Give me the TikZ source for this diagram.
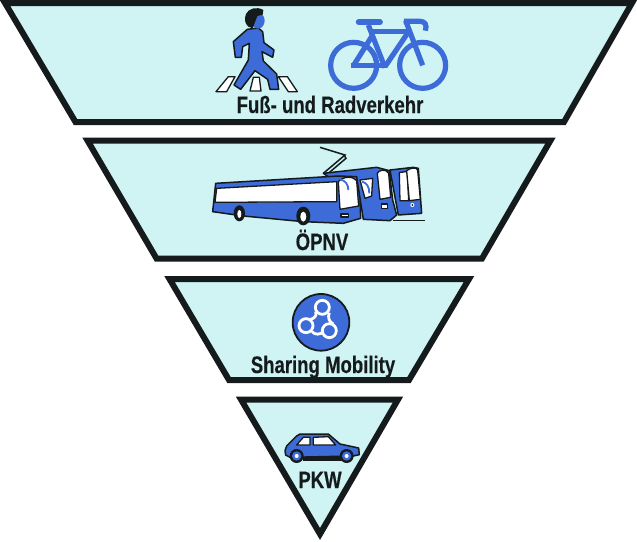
\documentclass[tikz,border=0pt]{standalone}
\usepackage{fontspec}
\setmainfont[FakeStretch=0.78,BoldFeatures={FakeBold=0.35}]{Liberation Sans}
\definecolor{panel}{HTML}{CFF4F3}
\definecolor{iconblue}{HTML}{3D6BD8}
\definecolor{ink}{HTML}{151A1C}
\tikzset{
  panelshape/.style={draw=ink,fill=panel,line width=6pt,miter limit=10,line join=miter},
  lbl/.style={font=\fontsize{23.8}{25}\selectfont\bfseries,text=ink,anchor=base,inner sep=0pt},
  icon/.style={draw=ink,fill=iconblue,line width=1.5pt,line join=round},
  wht/.style={draw=ink,fill=white,line width=1.3pt,line join=round},
  bikeline/.style={draw=iconblue,line width=5.2pt,line join=miter,line cap=butt},
  ringw/.style={draw=white,line width=2.8pt}
}
\begin{document}
\begin{tikzpicture}[x=1pt,y=-1pt]
\useasboundingbox (0,0) rectangle (637,541);
\fill[white] (0,0) rectangle (637,541);
% panels
\draw[panelshape] (5,3) -- (632,3) -- (564,122) -- (75.5,122) -- cycle;
\draw[panelshape] (87.5,140.5) -- (550.5,140.5) -- (482,258.5) -- (156.5,258.5) -- cycle;
\draw[panelshape] (169.5,279) -- (469,279) -- (409,380) -- (229,380) -- cycle;
\draw[panelshape] (241,399.5) -- (398,399.5) -- (320,534) -- cycle;
% labels
\node[lbl] (t1) at (330,113) {Fuß- und Radverkehr};
\node[lbl] (t2) at (322,250) {ÖPNV};
\node[lbl] (t3) at (323,373) {Sharing Mobility};
\node[lbl] (t4) at (320,488) {PKW};
% pedestrian and bicycle
\begin{scope}[shift={(200,0)},x=0.3333pt,y=-0.3333pt]
 \draw[wht] (48,275) -- (85,230) -- (105,230) -- (80,275) -- cycle;
 \draw[wht] (150,273) -- (160,232) -- (178,232) -- (183,273) -- cycle;
 \draw[wht] (235,230) -- (262,230) -- (292,275) -- (265,275) -- cycle;
 \draw[icon] (142,88) -- (175,84) -- (188,95) -- (192,128) -- (222,150) -- (218,172) -- (186,155) -- (190,183) -- (230,222) -- (236,268) -- (210,268) -- (203,238) -- (165,212) -- (122,268) -- (102,255) -- (145,180) -- (148,130) -- (128,140) -- (124,172) -- (106,172) -- (100,125) -- cycle;
 \fill[iconblue] (174,62) ellipse (20 and 24);
 \fill[ink] (138,42) .. controls (145,26) and (170,18) .. (190,30) -- (188,44) -- (172,48) -- (158,85) -- (145,80) .. controls (133,70) and (133,55) .. (138,42) -- cycle;
 % bike
 \draw[bikeline] (461,196) circle (69);
 \draw[bikeline] (668,196) circle (69);
 \draw[bikeline] (505,75) -- (555,203);
 \draw[bikeline] (512,95) -- (625,95);
 \draw[bikeline] (628,92) -- (555,200);
 \draw[bikeline] (461,196) -- (518,105);
 \draw[bikeline] (453,196) -- (560,196);
 \draw[bikeline] (617,62) -- (668,196);
 \draw[bikeline] (612,64) -- (660,64) .. controls (675,64) and (682,75) .. (676,92);
 \draw[iconblue,line width=5.8pt,line cap=round] (476,66) -- (540,66);
\end{scope}
% buses
\begin{scope}[shift={(200,140)},x=0.3333pt,y=-0.3333pt]
 \draw[ink,line width=1.5pt] (370,100) -- (435,45) -- (360,22);
 \draw[ink,line width=1.5pt] (385,100) -- (438,55) -- (432,45);
 \draw[ink,line width=1.5pt] (580,242) -- (675,242);
 % third bus
 \draw[icon] (570,90) -- (640,82) -- (655,85) -- (665,220) -- (595,225) -- cycle;
 \draw[wht] (598,98) -- (622,94) -- (626,182) -- (600,182) -- cycle;
 \draw[wht] (620,92) .. controls (630,84) and (650,80) .. (653,90) -- (661,178) -- (628,182) -- cycle;
 \fill[white] (637,195) circle (6);
 \fill[ink] (637,195) circle (3);
 % second bus
 \draw[icon] (370,100) -- (530,82) -- (568,92) -- (578,180) -- (590,225) -- (570,242) -- (490,238) -- (480,175) -- cycle;
 \draw[wht] (480,120) -- (518,115) -- (515,168) -- (495,175) -- cycle;
 \draw[iconblue,line width=1.8pt] (486,125) .. controls (500,128) and (508,140) .. (508,160);
 \draw[wht] (532,100) .. controls (535,90) and (560,85) .. (566,100) -- (572,172) -- (540,178) -- cycle;
 \draw[wht] (545,192) rectangle (562,205);
 % front bus
 \draw[icon] (47,130) -- (415,108) -- (470,110) -- (480,175) -- (482,235) -- (430,250) -- (310,245) -- (130,228) -- (38,215) -- cycle;
 \draw[wht] (50,145) -- (410,125) -- (410,185) -- (45,187) -- cycle;
 \draw[wht] (415,125) .. controls (430,108) and (460,108) .. (470,122) -- (476,198) -- (420,208) -- cycle;
 \draw[iconblue,line width=1.8pt] (420,118) .. controls (438,122) and (445,135) .. (445,150);
 \draw[wht] (423,222) rectangle (445,231);
 \fill[ink] (118,220) ellipse (17 and 24);
 \fill[white] (118,222) ellipse (6 and 12);
 \fill[ink] (310,228) ellipse (21 and 28);
 \fill[white] (310,230) ellipse (9 and 15);
\end{scope}
% sharing icon
\begin{scope}[shift={(240,290)},x=0.3333pt,y=-0.3333pt]
 \draw[draw=ink,fill=iconblue,line width=1.8pt] (243,97) circle (85);
 \draw[ringw] (227,65) .. controls (232,78) and (222,85) .. (212,88);
 \draw[ringw] (268,68) .. controls (262,85) and (268,95) .. (280,102);
 \draw[ringw] (216,125) .. controls (225,135) and (240,135) .. (250,125);
 \draw[ringw] (247,52) circle (21);
 \draw[ringw] (198,107) circle (21);
 \draw[ringw] (268,122) circle (21);
\end{scope}
% car
\begin{scope}[shift={(270,420)},x=0.3333pt,y=-0.3333pt]
 \fill[ink] (100,100) rectangle (215,122);
 \draw[icon] (45,92) -- (50,78) -- (80,48) -- (90,42) -- (175,42) -- (210,72) -- (266,84) -- (268,104) -- (250,108) -- (60,112) -- (47,105) -- cycle;
 \draw[wht] (80,75) -- (100,52) -- (120,52) -- (120,75) -- cycle;
 \draw[wht] (130,75) -- (130,52) -- (175,50) -- (197,75) -- cycle;
 \fill[ink] (80,108) circle (21);
 \fill[iconblue] (80,108) circle (14);
 \fill[white] (80,108) circle (6);
 \fill[ink] (230,108) circle (21);
 \fill[iconblue] (230,108) circle (14);
 \fill[white] (230,108) circle (6);
\end{scope}
\end{tikzpicture}
\end{document}
